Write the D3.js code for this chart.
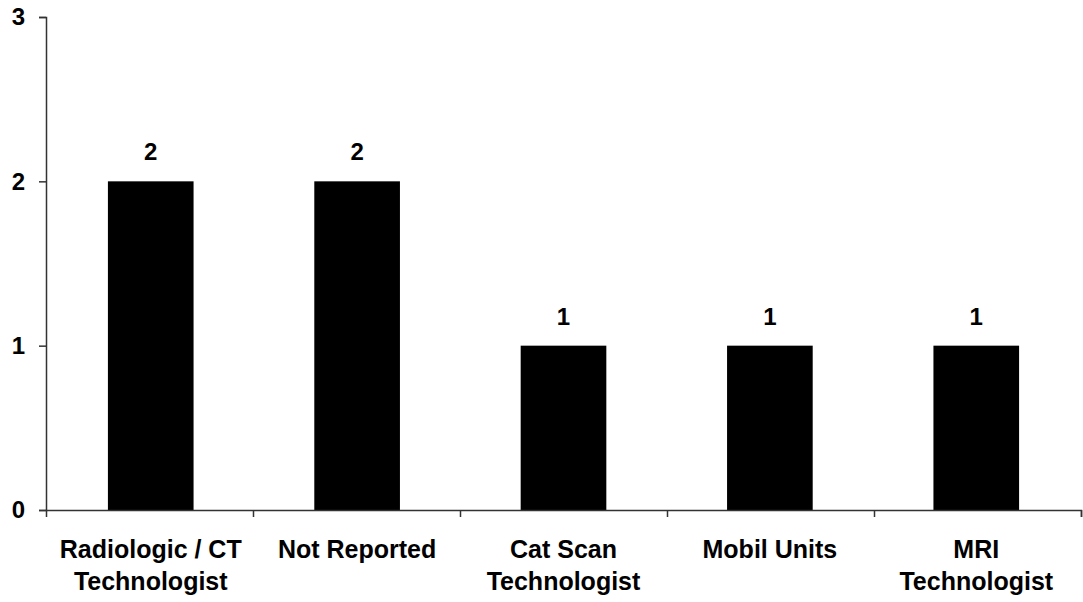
<!DOCTYPE html>
<html><head><meta charset="utf-8">
<script src="https://cdn.jsdelivr.net/npm/d3@7"></script>
<style>body{margin:0;background:#fff}svg{display:block}text{font-family:"Liberation Sans",Arial,sans-serif;font-weight:bold;fill:#000}</style>
</head><body>
<svg id="c" width="1083" height="602"></svg>
<script>
const categories = [["Radiologic / CT","Technologist"],["Not Reported"],["Cat Scan","Technologist"],["Mobil Units"],["MRI","Technologist"]];
const values = [2,2,1,1,1];
const yTicks = [0,1,2,3];

const svg = d3.select("#c");
const m = {l:46, r:2, t:17, b:92};
const W = 1083, H = 602;
const x = d3.scaleBand().domain(d3.range(categories.length)).range([m.l, W - m.r]).paddingInner(0.585).paddingOuter(0.3);
const y = d3.scaleLinear().domain([0,3]).range([H - m.b, m.t]);

svg.selectAll("rect.bar").data(values).enter().append("rect")
  .attr("x",(d,i)=>x(i)).attr("width",x.bandwidth())
  .attr("y",d=>y(d)).attr("height",d=>y(0)-y(d)).attr("fill","#000");

svg.selectAll("text.val").data(values).enter().append("text")
  .attr("x",(d,i)=>x(i)+x.bandwidth()/2).attr("y",d=>y(d)-21)
  .attr("text-anchor","middle").attr("font-size",24).text(d=>d);

const ya = svg.append("g").attr("transform",`translate(${m.l},0)`)
  .call(d3.axisLeft(y).tickValues(yTicks).tickFormat(d3.format("d")).tickSize(7).tickPadding(14));
ya.select(".domain").attr("stroke","#333").attr("stroke-width",1.5);
ya.selectAll(".tick line").attr("stroke","#333").attr("stroke-width",1.5);
ya.selectAll(".tick text").attr("font-size",24).attr("font-family","Liberation Sans, Arial, sans-serif").attr("font-weight","bold").attr("fill","#000");

const xb = d3.scaleLinear().domain([0,categories.length]).range([m.l, W - m.r]);
const xa = svg.append("g").attr("transform",`translate(0,${y(0)})`)
  .call(d3.axisBottom(xb).tickValues(d3.range(1,categories.length+1)).tickFormat("").tickSizeOuter(0).tickSize(7));
xa.select(".domain").attr("stroke","#333").attr("stroke-width",1.5);
xa.selectAll(".tick line").attr("stroke","#333").attr("stroke-width",1.5);

categories.forEach((lines,i)=>{
  const cx = x(i)+x.bandwidth()/2;
  const t = svg.append("text").attr("text-anchor","middle").attr("font-size",25)
    .attr("x", cx).attr("y", y(0)+48);
  lines.forEach((ln,j)=>t.append("tspan").attr("x",cx).attr("dy",j?32:0).text(ln));
});
</script>
</body></html>
